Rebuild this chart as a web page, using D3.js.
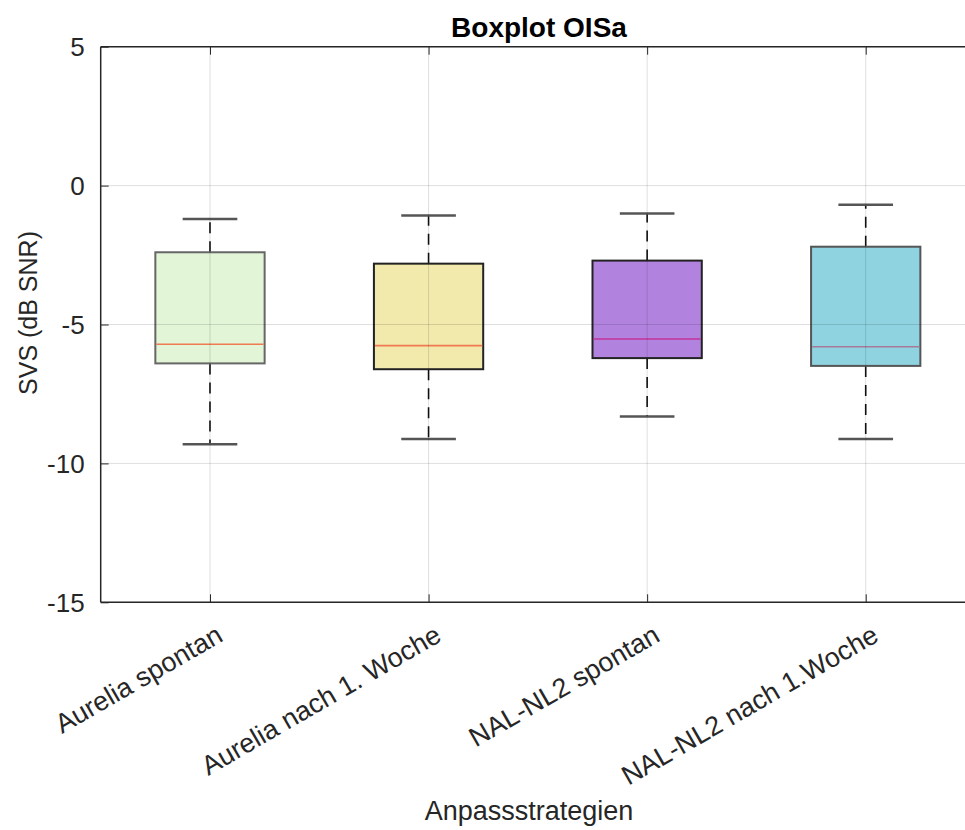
<!DOCTYPE html>
<html><head><meta charset="utf-8">
<script src="https://cdn.jsdelivr.net/npm/d3@7"></script>
<style>
body{margin:0;background:#fff;}
svg{display:block;font-family:"Liberation Sans",Arial,sans-serif;}
</style></head>
<body><svg id="c" width="965" height="830"></svg>
<script>
const categories = ["Aurelia spontan","Aurelia nach 1. Woche","NAL-NL2 spontan","NAL-NL2 nach 1.Woche"];
const whiskerHigh = [-1.20,-1.08,-1.00,-0.69];
const q3 = [-2.40,-2.81,-2.70,-2.20];
const median = [-5.71,-5.76,-5.52,-5.80];
const q1 = [-6.40,-6.61,-6.21,-6.49];
const whiskerLow = [-9.31,-9.12,-8.31,-9.12];
const fills = ["#e2f5d7","#f2e9ad","#b283de","#8fd3e1"];
const edges = ["#666","#222","#222","#555"];
const medianColors = ["#f07a52","#f07a52","#c3339a","#a77a9a"];
const yTicks = [-15,-10,-5,0,5];

const svg = d3.select("#c");
const m = {l:100.7, r:975, t:46.7, b:602.3};
const x = d3.scaleLinear().domain([0.5,4.5]).range([m.l,m.r]);
const y = d3.scaleLinear().domain([-15,5]).range([m.b,m.t]);
const bw = 0.5;
const idx = categories.map((d,i)=>i+1);

// boxes
const g = svg.append("g");
categories.forEach((c,i)=>{
  const cx = x(i+1);
  const x0 = x(i+1-bw/2), x1 = x(i+1+bw/2);
  const c0 = x(i+1-bw/4), c1 = x(i+1+bw/4);
  g.append("line").attr("x1",cx).attr("x2",cx).attr("y1",y(q3[i])).attr("y2",y(whiskerHigh[i]))
    .attr("stroke","#111").attr("stroke-width",1.6).attr("stroke-dasharray","11,8");
  g.append("line").attr("x1",cx).attr("x2",cx).attr("y1",y(q1[i])).attr("y2",y(whiskerLow[i]))
    .attr("stroke","#111").attr("stroke-width",1.6).attr("stroke-dasharray","11,8");
  [whiskerHigh[i],whiskerLow[i]].forEach(v=>{
    g.append("line").attr("x1",c0).attr("x2",c1).attr("y1",y(v)).attr("y2",y(v))
      .attr("stroke","#555").attr("stroke-width",2.5);
  });
  g.append("rect").attr("x",x0).attr("y",y(q3[i])).attr("width",x1-x0).attr("height",y(q1[i])-y(q3[i]))
    .attr("fill",fills[i]).attr("stroke",edges[i]).attr("stroke-width",2);
  g.append("line").attr("x1",x0+1).attr("x2",x1-1).attr("y1",y(median[i])).attr("y2",y(median[i]))
    .attr("stroke",medianColors[i]).attr("stroke-width",1.6);
});

// grid on top, translucent
const grid = svg.append("g");
yTicks.forEach(t=>{
  grid.append("line").attr("x1",m.l).attr("x2",m.r).attr("y1",y(t)).attr("y2",y(t))
    .attr("stroke","rgba(0,0,0,0.13)").attr("stroke-width",1);
});
idx.forEach(t=>{
  grid.append("line").attr("x1",x(t)).attr("x2",x(t)).attr("y1",m.t).attr("y2",m.b)
    .attr("stroke","rgba(0,0,0,0.13)").attr("stroke-width",1);
});

// axes
const yAxis = d3.axisLeft(y).tickValues(yTicks).tickSize(-8).tickPadding(16).tickFormat(d=>String(d));
const ya = svg.append("g").attr("transform",`translate(${m.l},0)`).call(yAxis);
ya.select(".domain").remove();
ya.selectAll("line").attr("stroke","#262626");
ya.selectAll("text").attr("font-size",26).attr("fill","#262626").attr("dy","0.35em").attr("font-family","Liberation Sans, Arial");

const xAxis = d3.axisBottom(x).tickValues(idx).tickSize(-8).tickFormat((d)=>categories[d-1]);
const xa = svg.append("g").attr("transform",`translate(0,${m.b})`).call(xAxis);
xa.select(".domain").remove();
xa.selectAll("line").attr("stroke","#262626");
xa.selectAll("text").attr("font-size",27).attr("fill","#262626").attr("font-family","Liberation Sans, Arial")
  .attr("text-anchor","end").attr("dy",null).attr("y",0)
  .attr("transform","translate(14,38) rotate(-30)");

// top ticks
const xt = svg.append("g").attr("transform",`translate(0,${m.t})`).call(d3.axisTop(x).tickValues(idx).tickSize(-8).tickFormat(""));
xt.select(".domain").remove();
xt.selectAll("line").attr("stroke","#262626");

// frame
svg.append("line").attr("x1",m.l).attr("x2",m.l).attr("y1",m.t).attr("y2",m.b).attr("stroke","#262626").attr("stroke-width",1.5);
svg.append("line").attr("x1",m.l).attr("x2",m.r).attr("y1",m.b).attr("y2",m.b).attr("stroke","#262626").attr("stroke-width",1.5);
svg.append("line").attr("x1",m.l).attr("x2",m.r).attr("y1",m.t).attr("y2",m.t).attr("stroke","#262626").attr("stroke-width",1.5);

// labels
svg.append("text").attr("x",539).attr("y",37).attr("text-anchor","middle").attr("font-weight","bold")
  .attr("font-size",28).attr("fill","#000").text("Boxplot OISa");
svg.append("text").attr("x",529).attr("y",820).attr("text-anchor","middle")
  .attr("font-size",27).attr("fill","#262626").text("Anpassstrategien");
svg.append("text").attr("transform","translate(37,313) rotate(-90)").attr("text-anchor","middle")
  .attr("font-size",25).attr("fill","#262626").text("SVS (dB SNR)");
</script></body></html>
